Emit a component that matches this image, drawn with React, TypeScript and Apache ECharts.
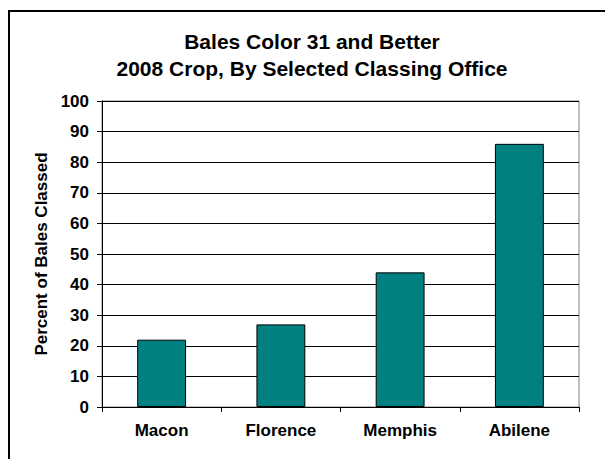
import React, { useEffect, useRef } from "react";
import * as echarts from "echarts";

const titleLines = ["Bales Color 31 and Better", "2008 Crop, By Selected Classing Office"];
const categories = ["Macon", "Florence", "Memphis", "Abilene"];
const values = [22, 27, 44, 86];
const yAxisName = "Percent of Bales Classed";
const yMin = 0;
const yMax = 100;
const yInterval = 10;

const FONT = "'Liberation Sans', Arial, sans-serif";

export default function App() {
  const ref = useRef<HTMLDivElement>(null);
  useEffect(() => {
    if (!ref.current) return;
    const chart = echarts.init(ref.current, null, { renderer: "svg" });
    chart.setOption({
      animation: false,
      backgroundColor: "#ffffff",
      title: {
        text: titleLines.join("\n"),
        left: 307,
        textAlign: "center",
        top: 23,
        textStyle: {
          fontFamily: FONT,
          fontWeight: "bold",
          fontSize: 21,
          lineHeight: 27,
          color: "#000",
        },
      },
      graphic: [
        {
          type: "rect",
          shape: { x: 9, y: 11, width: 800, height: 800 },
          style: { fill: "none", stroke: "#000", lineWidth: 2 },
          silent: true,
        },
      ],
      grid: {
        left: 102,
        top: 101,
        right: 26,
        bottom: 52,
        show: true,
        borderColor: "#808080",
        borderWidth: 1,
        backgroundColor: "transparent",
      },
      xAxis: {
        type: "category",
        data: categories,
        axisLine: { show: true, lineStyle: { color: "#000", width: 1 } },
        axisTick: { show: true, length: 5, alignWithLabel: false, lineStyle: { color: "#000" } },
        axisLabel: {
          fontFamily: FONT,
          fontWeight: "bold",
          fontSize: 17,
          color: "#000",
          margin: 15,
        },
        splitLine: { show: false },
      },
      yAxis: {
        type: "value",
        min: yMin,
        max: yMax,
        interval: yInterval,
        name: yAxisName,
        nameLocation: "middle",
        nameGap: 46,
        nameTextStyle: {
          fontFamily: FONT,
          fontWeight: "bold",
          fontSize: 17,
          color: "#000",
        },
        axisLine: { show: true, lineStyle: { color: "#000", width: 1 } },
        axisTick: { show: true, length: 5, lineStyle: { color: "#000" } },
        axisLabel: {
          fontFamily: FONT,
          fontWeight: "bold",
          fontSize: 17,
          color: "#000",
          margin: 13,
        },
        splitLine: { show: true, lineStyle: { color: "#000", width: 1 } },
      },
      series: [
        {
          type: "bar",
          data: values,
          barCategoryGap: "59%",
          itemStyle: { color: "#008080", borderColor: "#000", borderWidth: 1 },
        },
      ],
    });
    return () => chart.dispose();
  }, []);
  return (
    <div
      ref={ref}
      style={{ position: "fixed", left: 0, top: 0, width: 605, height: 459 }}
    />
  );
}
